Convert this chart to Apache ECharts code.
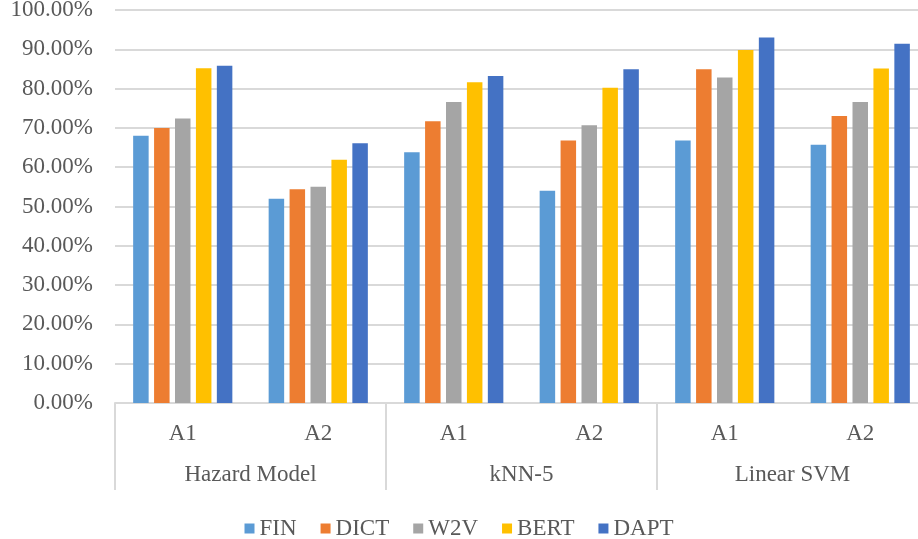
<!DOCTYPE html>
<html>
<head>
<meta charset="utf-8">
<script src="https://cdn.jsdelivr.net/npm/echarts@6/dist/echarts.min.js"></script>
<style>html,body{margin:0;padding:0;background:#fff;}#c{width:918px;height:539px;}</style>
</head>
<body>
<div id="c"></div>
<script>
var subCategories = ['A1', 'A2', 'A1', 'A2', 'A1', 'A2'];
var groups = ['Hazard Model', 'kNN-5', 'Linear SVM'];
var seriesNames = ['FIN', 'DICT', 'W2V', 'BERT', 'DAPT'];
var FIN  = [68.0, 52.0, 63.8, 54.0, 66.8, 65.7];
var DICT = [70.0, 54.4, 71.7, 66.8, 84.9, 73.0];
var W2V  = [72.4, 55.0, 76.6, 70.7, 82.8, 76.6];
var BERT = [85.2, 61.9, 81.6, 80.2, 89.8, 85.1];
var DAPT = [85.8, 66.1, 83.2, 84.9, 93.0, 91.4];
var colors = ['#5B9BD5', '#ED7D31', '#A5A5A5', '#FFC000', '#4472C4'];
var values = [FIN, DICT, W2V, BERT, DAPT];

var font = 'Liberation Serif';
var textColor = '#595959';
var legendText = {fontFamily: font, fontSize: 23, color: textColor, fontWeight: 'normal'};
var chart = echarts.init(document.getElementById('c'), null, {renderer: 'canvas'});
var series = seriesNames.map(function (n, i) {
  return {
    name: n, type: 'bar', data: values[i], xAxisIndex: 0,
    barWidth: 15.5, barGap: '35%',
    itemStyle: {color: colors[i]}
  };
});
chart.setOption({
  animation: false,
  color: colors,
  textStyle: {fontFamily: font, color: textColor},
  grid: {left: 115, top: 10, width: 813, height: 393, containLabel: false, outerBoundsMode: 'none'},
  legend: {
    data: seriesNames.map(function (n) { return {name: n, textStyle: legendText}; }),
    left: 'center', top: 512,
    itemWidth: 10, itemHeight: 10, itemGap: 24, icon: 'rect',
    textStyle: legendText
  },
  xAxis: [{
    type: 'category', data: subCategories, position: 'bottom',
    axisLine: {show: true, lineStyle: {color: '#d9d9d9', width: 2}},
    axisTick: {show: true, length: 87, interval: function (i) { return i % 2 === 0; }, lineStyle: {color: '#d9d9d9', width: 2}},
    axisLabel: {margin: 19, fontFamily: font, fontSize: 23, color: textColor}
  }, {
    type: 'category', data: groups, position: 'bottom',
    axisLine: {show: false}, axisTick: {show: false},
    axisLabel: {margin: 60, fontFamily: font, fontSize: 23, color: textColor}
  }],
  yAxis: {
    type: 'value', min: 0, max: 100, interval: 10,
    axisLine: {show: false}, axisTick: {show: false},
    splitLine: {lineStyle: {color: '#d9d9d9', width: 2}},
    axisLabel: {margin: 22, fontFamily: font, fontSize: 23, color: textColor,
      formatter: function (v) { return v.toFixed(2) + '%'; }}
  },
  series: series
});
</script>
</body>
</html>
